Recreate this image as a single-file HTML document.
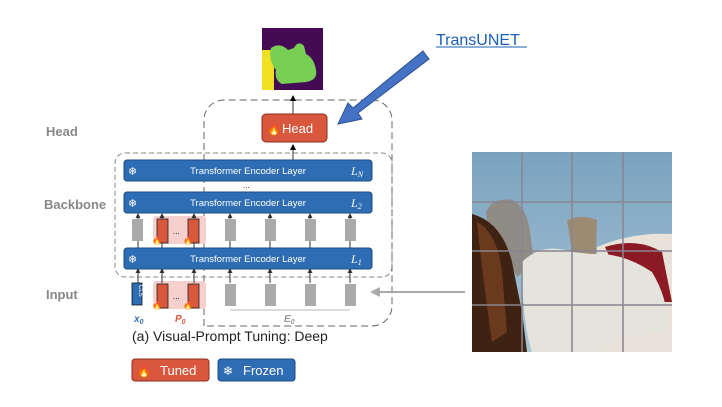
<!DOCTYPE html>
<html><head><meta charset="utf-8"><style>
body{margin:0;background:#fff;width:722px;height:402px;overflow:hidden;font-family:"Liberation Sans",sans-serif}
</style></head><body>
<svg width="722" height="402" viewBox="0 0 722 402" xmlns="http://www.w3.org/2000/svg" font-family="Liberation Sans, sans-serif">
<defs>
<marker id="ah" markerWidth="6" markerHeight="6" refX="5" refY="3" orient="auto"><path d="M0,0L6,3L0,6z" fill="#000"/></marker>
<marker id="ahs" markerWidth="5" markerHeight="5" refX="4" refY="2.5" orient="auto"><path d="M0,0L5,2.5L0,5z" fill="#333"/></marker>
<linearGradient id="sky" x1="0" y1="0" x2="0" y2="1"><stop offset="0" stop-color="#7aa2bf"/><stop offset="1" stop-color="#a9c6d8"/></linearGradient>
</defs>
<text x="46" y="136" font-size="13" font-weight="bold" fill="#888">Head</text>
<text x="44" y="209" font-size="13" font-weight="bold" fill="#888">Backbone</text>
<text x="46" y="299" font-size="13" font-weight="bold" fill="#888">Input</text>
<rect x="115" y="153" width="277" height="124" rx="10" fill="none" stroke="#888" stroke-dasharray="5,3"/>
<path d="M204,326 V120 a20,20 0 0 1 20,-20 H372 a20,20 0 0 1 20,20 V306 a20,20 0 0 1 -20,20 Z" fill="none" stroke="#666" stroke-dasharray="7,4"/>
<rect x="153" y="216" width="53" height="28" rx="3" fill="#f5d0cc"/>
<rect x="153" y="281" width="53" height="28" rx="3" fill="#f5d0cc"/>
<g stroke="#333" stroke-width="1">
<line x1="293" y1="160" x2="293" y2="145" marker-end="url(#ah)"/>
<line x1="293" y1="114" x2="293" y2="96" marker-end="url(#ah)"/>
<g marker-end="url(#ahs)">
<line x1="138" y1="248" x2="138" y2="214"/><line x1="162" y1="248" x2="162" y2="214"/><line x1="194" y1="248" x2="194" y2="214"/><line x1="230" y1="248" x2="230" y2="214"/><line x1="270" y1="248" x2="270" y2="214"/><line x1="310" y1="248" x2="310" y2="214"/><line x1="350" y1="248" x2="350" y2="214"/>
<line x1="138" y1="283" x2="138" y2="269"/><line x1="162" y1="283" x2="162" y2="269"/><line x1="194" y1="283" x2="194" y2="269"/><line x1="230" y1="283" x2="230" y2="269"/><line x1="270" y1="283" x2="270" y2="269"/><line x1="310" y1="283" x2="310" y2="269"/><line x1="350" y1="283" x2="350" y2="269"/>
</g></g>
<g fill="#aaa">
<rect x="132" y="219" width="11" height="22"/><rect x="225" y="219" width="11" height="22"/><rect x="265" y="219" width="11" height="22"/><rect x="305" y="219" width="11" height="22"/><rect x="345" y="219" width="11" height="22"/>
<rect x="225" y="284" width="11" height="22"/><rect x="265" y="284" width="11" height="22"/><rect x="305" y="284" width="11" height="22"/><rect x="345" y="284" width="11" height="22"/>
</g>
<g fill="#d9573d" stroke="#222" stroke-width="0.8">
<rect x="157" y="219" width="11" height="24"/><rect x="188" y="219" width="11" height="24"/>
<rect x="157" y="284" width="11" height="24"/><rect x="188" y="284" width="11" height="24"/>
</g>
<g font-size="8" fill="#f80"><text x="152" y="243">🔥</text><text x="183" y="243">🔥</text><text x="152" y="308">🔥</text><text x="183" y="308">🔥</text></g>
<text x="173" y="234" font-size="8">...</text><text x="173" y="299" font-size="8">...</text>
<rect x="132" y="283" width="10" height="22" fill="#2e6db4" stroke="#111" stroke-width="0.8"/>
<text x="0" y="0" font-size="6" fill="#fff" transform="translate(139,285) rotate(90)">CLS</text>
<line x1="230" y1="310" x2="350" y2="310" stroke="#bbb"/>
<text x="134" y="322" font-size="10" font-weight="bold" font-style="italic" fill="#3a6fb5">x<tspan font-size="7" dy="2">0</tspan></text>
<text x="175" y="322" font-size="10" font-weight="bold" font-style="italic" fill="#d9573d">P<tspan font-size="7" dy="2">0</tspan></text>
<text x="284" y="322" font-size="10" font-weight="bold" font-style="italic" fill="#999">E<tspan font-size="7" dy="2">0</tspan></text>
<g>
<rect x="124" y="160" width="248" height="21" rx="3" fill="#2e6db4" stroke="#1c4a85"/>
<rect x="124" y="192" width="248" height="21" rx="3" fill="#2e6db4" stroke="#1c4a85"/>
<rect x="124" y="248" width="248" height="21" rx="3" fill="#2e6db4" stroke="#1c4a85"/>
<g fill="#fff" font-size="9.5" text-anchor="middle"><text x="248" y="174">Transformer Encoder Layer</text><text x="248" y="206">Transformer Encoder Layer</text><text x="248" y="262">Transformer Encoder Layer</text></g>
<g fill="#fff" font-size="11"><text x="128" y="175">❄</text><text x="128" y="207">❄</text><text x="128" y="263">❄</text></g>
<g fill="#fff" font-size="12" font-style="italic" font-family="Liberation Serif, serif"><text x="351" y="175">L<tspan font-size="8" dy="2">N</tspan></text><text x="351" y="207">L<tspan font-size="8" dy="2">2</tspan></text><text x="351" y="263">L<tspan font-size="8" dy="2">1</tspan></text></g>
</g>
<text x="243" y="188" font-size="8">...</text>
<rect x="262" y="114" width="65" height="28" rx="4" fill="#d9573d" stroke="#8a3020"/>
<text x="267" y="133" font-size="11">🔥</text>
<text x="282" y="133" font-size="13" fill="#fff">Head</text>
<rect x="262" y="28" width="61" height="62" fill="#440b54"/>
<rect x="262" y="50" width="12" height="40" fill="#f0e024"/>
<path d="M271,48 Q280,42 288,50 L294,48 Q298,40 304,46 L306,54 Q314,58 316,70 Q318,80 306,82 L282,84 Q274,80 276,70 Q268,60 271,48Z" fill="#78cf54"/>
<text x="132" y="341" font-size="14" fill="#222">(a) Visual-Prompt Tuning:  Deep</text>
<rect x="132" y="359" width="77" height="22" rx="3" fill="#d9573d" stroke="#8a3020"/>
<text x="137" y="375" font-size="11">🔥</text><text x="160" y="375" font-size="13" fill="#fff">Tuned</text>
<rect x="218" y="359" width="77" height="22" rx="3" fill="#2e6db4" stroke="#1c4a85"/>
<text x="223" y="375" font-size="12" fill="#fff">❄</text><text x="243" y="375" font-size="13" fill="#fff">Frozen</text>
<text x="436" y="45" font-size="16" fill="#1a5fb4">TransUNET</text>
<line x1="436" y1="47" x2="527" y2="47" stroke="#1a5fb4"/>
<polygon points="423,51 429,59 358,113 362,119 338,124 348,103 353,108" fill="#4472c4" stroke="#2f528f"/>
<line x1="465" y1="292" x2="378" y2="292" stroke="#aaa" stroke-width="2"/>
<polygon points="370,292 380,287 380,297" fill="#aaa"/>
<svg x="472" y="152" width="200" height="200" viewBox="0 0 200 200">
<rect width="200" height="200" fill="url(#sky)"/>
<path d="M125,95 Q160,80 200,82 V200 H125Z" fill="#e8e2d8"/>
<path d="M133,95 Q165,85 190,100 L200,150 L160,150 L140,110Z" fill="#8b1a24"/>
<path d="M14,60 Q20,45 40,48 Q55,55 58,80 L62,110 L45,125 L30,95 Q15,80 14,60Z" fill="#8f8c86"/>
<path d="M95,68 Q110,62 125,68 L124,100 L118,135 L108,135 L100,100Z" fill="#9c8b72"/>
<path d="M50,110 Q70,90 100,100 L120,102 Q150,100 180,120 Q198,150 195,180 L150,185 L130,200 H60 Q50,170 50,110Z" fill="#e4e3dc"/>
<path d="M0,62 Q30,70 40,110 L50,160 L55,200 H0Z" fill="#3e2212"/>
<path d="M5,70 Q25,80 30,120 L35,180 L20,190 Q10,120 5,70Z" fill="#6b3a1e"/>
<g stroke="#8a8490" stroke-width="1.5"><line x1="50" y1="0" x2="50" y2="200"/><line x1="100" y1="0" x2="100" y2="200"/><line x1="151" y1="0" x2="151" y2="200"/><line x1="0" y1="50" x2="200" y2="50"/><line x1="0" y1="99" x2="200" y2="99"/><line x1="0" y1="153" x2="200" y2="153"/></g>
</svg>
</svg>
</body></html>
